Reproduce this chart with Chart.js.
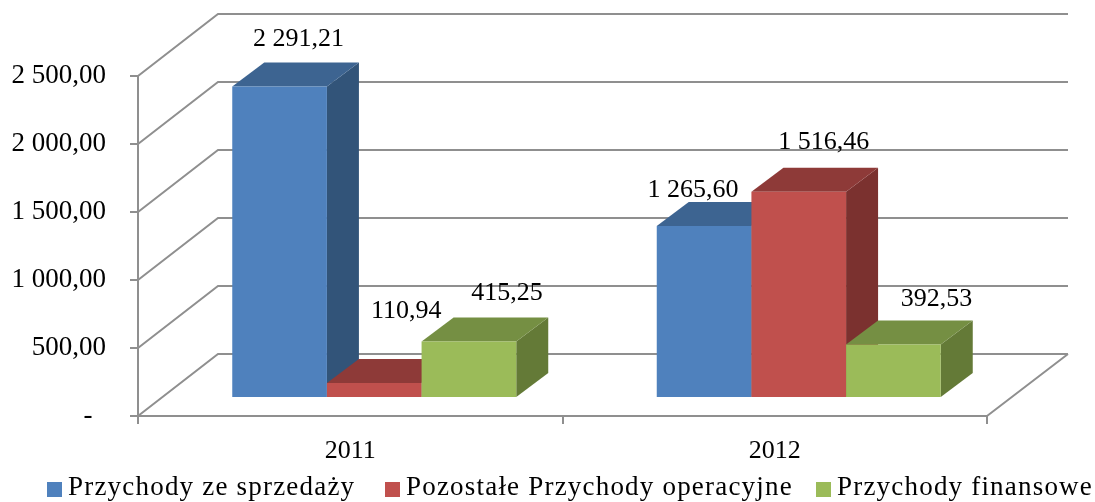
<!DOCTYPE html>
<html>
<head>
<meta charset="utf-8">
<script src="https://cdn.jsdelivr.net/npm/chart.js@4"></script>
<style>
  html, body { margin: 0; background: #fff; }
  canvas { display: block; }
</style>
</head>
<body>
<canvas id="chart" width="1095" height="502"></canvas>
<script>
const years = ['2011', '2012'];
const seriesNames = ['Przychody ze sprzedaży', 'Pozostałe Przychody operacyjne', 'Przychody finansowe'];
const sprzedaz = [2291.21, 1265.60];
const operacyjne = [110.94, 1516.46];
const finansowe = [415.25, 392.53];
const yTicks = [0, 500, 1000, 1500, 2000, 2500];

const frontColors = ['#4f81bd', '#c0504d', '#9bbb59'];
const topColors = ['#3d6491', '#8e3a38', '#758f43'];
const sideColors = ['#325479', '#7b312f', '#647a37'];
const gridColor = '#8f8f8f';
const fontFamily = '"Liberation Serif", serif';

// depth of the box and where the bars stand inside it
const wall = { dx: 81, dy: -62 };
const barShift = { dx: 24, dy: -18 };
const barDepth = { dx: 32, dy: -24 };

// data labels were moved by hand in the original, offsets from the bar's top centre
const labelOffsets = [
  [[19, -47], [-11, -36]],
  [[32, -72], [25, -50]],
  [[38, -48], [43, -45]]
];
const legendX = [47, 385, 816];

function fmt(v) {
  const parts = v.toFixed(2).split('.');
  return parts[0].replace(/\B(?=(\d{3})+$)/g, ' ') + ',' + parts[1];
}

function poly(ctx, pts, color) {
  ctx.fillStyle = color;
  ctx.beginPath();
  pts.forEach((p, i) => i ? ctx.lineTo(p[0], p[1]) : ctx.moveTo(p[0], p[1]));
  ctx.closePath();
  ctx.fill();
}

const box3d = {
  id: 'box3d',
  beforeDatasetsDraw(chart) {
    const { ctx, chartArea: a, scales: { y } } = chart;
    ctx.save();
    ctx.strokeStyle = gridColor;
    ctx.lineWidth = 2;
    ctx.beginPath();
    yTicks.forEach(t => {
      const py = y.getPixelForValue(t);
      ctx.moveTo(a.left, py);
      ctx.lineTo(a.left + wall.dx - 1, py + wall.dy);
      ctx.lineTo(a.right + wall.dx, py + wall.dy);
    });
    const py0 = y.getPixelForValue(0);
    ctx.moveTo(a.right + wall.dx, py0 + wall.dy);
    ctx.lineTo(a.right, py0);
    ctx.stroke();
    ctx.restore();

    // painter's order: left bar first, so the next bar's faces cover its side
    ctx.save();
    ctx.translate(barShift.dx, barShift.dy);
    chart.data.datasets.forEach((ds, i) => {
      const meta = chart.getDatasetMeta(i);
      meta.data.forEach(bar => {
        const l = bar.x - bar.width / 2;
        const r = bar.x + bar.width / 2;
        const d = barDepth;
        poly(ctx, [[r, bar.y], [r + d.dx, bar.y + d.dy], [r + d.dx, bar.base + d.dy], [r, bar.base]], sideColors[i]);
        poly(ctx, [[l, bar.y], [l + d.dx, bar.y + d.dy], [r + d.dx, bar.y + d.dy], [r, bar.y]], topColors[i]);
      });
      meta.controller.draw();
    });
    ctx.restore();
    return false;
  },
  afterDraw(chart) {
    const ctx = chart.ctx;
    ctx.save();
    ctx.font = '26px ' + fontFamily;
    ctx.fillStyle = '#000';
    ctx.textAlign = 'center';
    ctx.textBaseline = 'middle';
    chart.data.datasets.forEach((ds, i) => {
      chart.getDatasetMeta(i).data.forEach((bar, j) => {
        const off = labelOffsets[i][j];
        ctx.fillText(fmt(ds.data[j]), bar.x + barShift.dx + off[0], bar.y + barShift.dy + off[1]);
      });
    });
    // legend
    ctx.textAlign = 'left';
    ctx.font = '27px ' + fontFamily;
    ctx.letterSpacing = '1.2px';
    seriesNames.forEach((name, i) => {
      ctx.fillStyle = frontColors[i];
      ctx.fillRect(legendX[i], 482, 15, 15);
      ctx.fillStyle = '#000';
      ctx.fillText(name, legendX[i] + 21, 488);
    });
    ctx.restore();
  }
};

new Chart(document.getElementById('chart'), {
  type: 'bar',
  data: {
    labels: years,
    datasets: [sprzedaz, operacyjne, finansowe].map((vals, i) => ({
      label: seriesNames[i],
      data: vals,
      backgroundColor: frontColors[i],
      borderWidth: 0,
      categoryPercentage: 0.669,
      barPercentage: 1
    }))
  },
  options: {
    responsive: false,
    animation: false,
    layout: { padding: { top: 76, right: 108, left: 0, bottom: 0 } },
    plugins: { legend: { display: false }, tooltip: { enabled: false } },
    scales: {
      x: {
        afterFit(s) { s.height = 86; },
        border: { color: gridColor, width: 2 },
        grid: { drawOnChartArea: false, color: gridColor, lineWidth: 2, tickLength: 8 },
        ticks: { color: '#000', font: { family: fontFamily, size: 26 }, padding: 12, maxRotation: 0 }
      },
      y: {
        min: 0,
        max: 2500,
        afterFit(s) { s.width = 138; },
        afterBuildTicks(s) { s.ticks = yTicks.map(v => ({ value: v })); },
        border: { color: gridColor, width: 2 },
        grid: { drawOnChartArea: false, color: gridColor, lineWidth: 2, tickLength: 8 },
        ticks: {
          color: '#000',
          font: { family: fontFamily, size: 27 },
          padding: 24,
          callback: v => v === 0 ? '-  ' : fmt(v)
        }
      }
    }
  },
  plugins: [box3d]
});
</script>
</body>
</html>
